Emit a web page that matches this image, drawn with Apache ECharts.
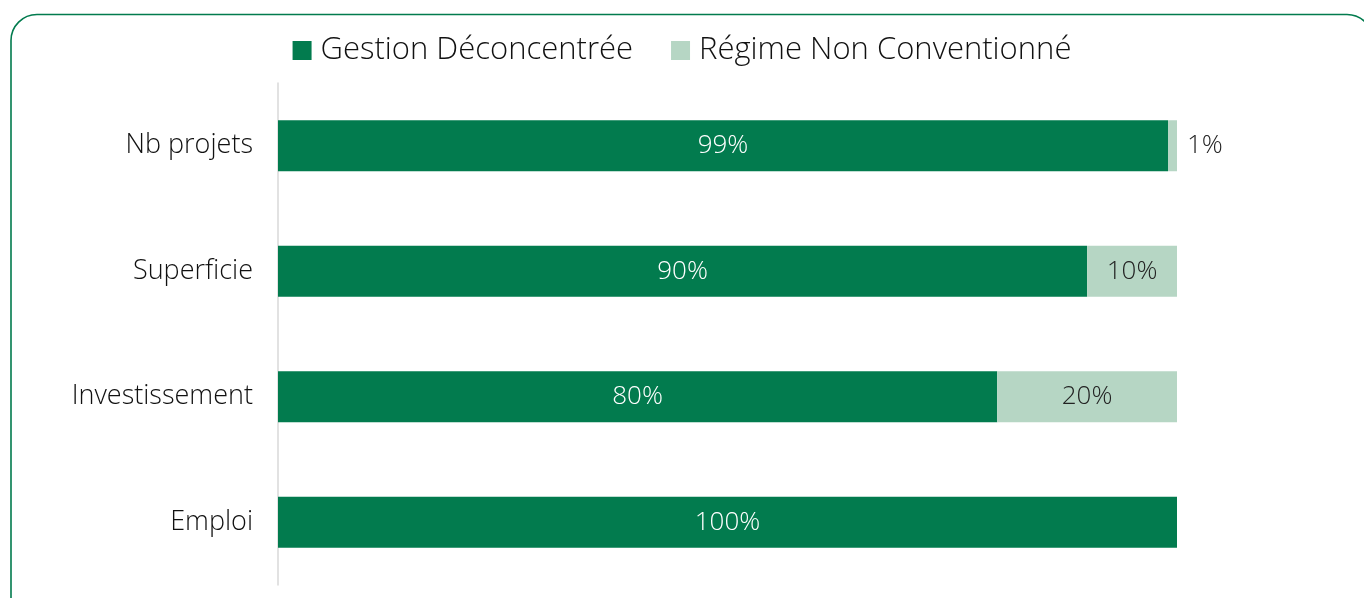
<!DOCTYPE html>
<html>
<head>
    <meta charset="utf-8">
    <title>Répartition par régime</title>
    <script src="https://cdn.jsdelivr.net/npm/echarts@6/dist/echarts.min.js"></script>
    <style>
        html, body { margin: 0; padding: 0; background: #fff; }
        #chart { width: 1364px; height: 598px; }
    </style>
</head>
<body>
    <div id="chart"></div>
    <script>
    // données (haut -> bas)
    const categories = ["Nb projets", "Superficie", "Investissement", "Emploi"];
    const gestion = [99, 90, 80, 100];
    const regime = [1, 10, 20, 0];
    const seriesNames = ["Gestion Déconcentrée", "Régime Non Conventionné"];

    const darkGreen = "#027b4e";
    const lightGreen = "#b6d6c4";
    const fontFam = "'Open Sans', Lato, sans-serif";

    // les petites valeurs ont leur étiquette à droite de la barre
    const regimeData = regime.map(function (v) {
        if (v === 0) return { value: v, label: { show: false } };
        if (v < 5) return { value: v, label: { position: "right", distance: 10 } };
        return v;
    });

    const chart = echarts.init(document.getElementById('chart'));
    chart.setOption({
        animation: false,
        graphic: [{
            type: "rect",
            shape: { x: 11, y: 14.5, width: 1362, height: 620, r: 26 },
            style: { fill: "none", stroke: darkGreen, lineWidth: 1.6 },
            silent: true
        }],
        legend: {
            top: 30,
            left: "center",
            itemWidth: 19,
            itemHeight: 19,
            itemGap: 38,
            icon: "rect",
            textStyle: { fontSize: 31, color: "#111", fontFamily: fontFam, fontWeight: 300, padding: [0, 0, 0, 4] },
            data: seriesNames
        },
        grid: { left: 278, right: 187, top: 83, bottom: 13, containLabel: false },
        xAxis: {
            type: "value",
            min: 0,
            max: 100,
            show: false
        },
        yAxis: {
            type: "category",
            inverse: true,
            data: categories,
            axisLine: { lineStyle: { color: "#d9d9d9", width: 1.5 } },
            axisTick: { show: false },
            axisLabel: { fontSize: 27, color: "#111", fontFamily: fontFam, fontWeight: 300, margin: 25 }
        },
        series: [
            {
                name: seriesNames[0],
                type: "bar",
                stack: "total",
                barWidth: 51,
                data: gestion,
                itemStyle: { color: darkGreen },
                label: {
                    show: true,
                    position: "inside",
                    formatter: "{c}%",
                    color: "#fff",
                    fontSize: 26,
                    fontFamily: fontFam,
                    fontWeight: 300
                }
            },
            {
                name: seriesNames[1],
                type: "bar",
                stack: "total",
                barWidth: 51,
                data: regimeData,
                itemStyle: { color: lightGreen },
                label: {
                    show: true,
                    position: "inside",
                    formatter: "{c}%",
                    color: "#222",
                    fontSize: 26,
                    fontFamily: fontFam,
                    fontWeight: 300
                }
            }
        ]
    });
    </script>
</body>
</html>
